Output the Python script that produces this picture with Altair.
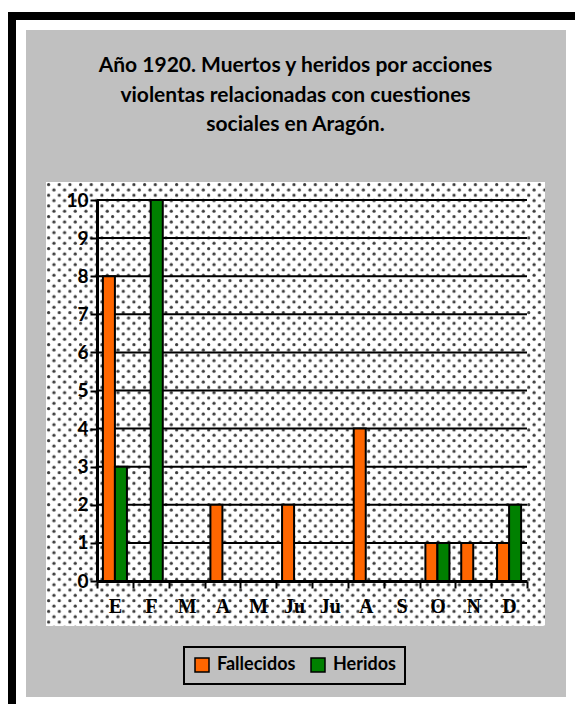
import json
import base64
import altair as alt
import pandas as pd

# ---------------- data ----------------
meses = ["Enero", "Febrero", "Marzo", "Abril", "Mayo", "Junio", "Julio",
         "Agosto", "Septiembre", "Octubre", "Noviembre", "Diciembre"]
etiquetas = ["E", "F", "M", "A", "M", "Ju", "Ju", "A", "S", "O", "N", "D"]
fallecidos = [8, 0, 0, 2, 0, 2, 0, 4, 0, 1, 1, 1]
heridos = [3, 10, 0, 0, 0, 0, 0, 0, 0, 1, 0, 2]
series = ["Fallecidos", "Heridos"]
colores = ["#ff6600", "#008000"]
y_ticks = list(range(0, 11))
titulo = ["Año 1920. Muertos y heridos por acciones",
          "violentas relacionadas con cuestiones",
          "sociales en Aragón."]

rows = []
for m, f, h in zip(meses, fallecidos, heridos):
    rows.append({"mes": m, "serie": series[0], "valor": f})
    rows.append({"mes": m, "serie": series[1], "valor": h})
df = pd.DataFrame(rows)

# ---------------- layout ----------------
W, H = 430, 381
OX, OY = 97, 200

pattern_svg = (
    "<svg xmlns='http://www.w3.org/2000/svg' width='499' height='444'>"
    "<defs><pattern id='p' width='10.67' height='10.67' patternUnits='userSpaceOnUse'>"
    "<rect width='10.67' height='10.67' fill='white'/>"
    "<circle cx='2.6' cy='2.6' r='1.6' fill='#3a3a3a'/>"
    "<circle cx='7.93' cy='7.93' r='1.6' fill='#3a3a3a'/>"
    "</pattern></defs><rect width='499' height='444' fill='url(#p)'/></svg>"
)
pattern_url = "data:image/svg+xml;base64," + base64.b64encode(pattern_svg.encode()).decode()

one = alt.Data(values=[{"k": 1}])

frame = alt.Chart(one).mark_rect(fillOpacity=0, stroke="black", strokeWidth=8).encode(
    x=alt.value(12 - OX), x2=alt.value(1200), y=alt.value(16 - OY), y2=alt.value(1200))

gray = alt.Chart(one).mark_rect(fill="#c0c0c0").encode(
    x=alt.value(26 - OX), x2=alt.value(566 - OX), y=alt.value(30 - OY), y2=alt.value(697 - OY))

pattern = alt.Chart(one).mark_image(
    width=499, height=444, align="left", baseline="top", aspect=False
).encode(x=alt.value(46 - OX), y=alt.value(182 - OY), url=alt.value(pattern_url))

yscale = alt.Scale(domain=[0, 10], nice=False, zero=True)
yaxis = alt.Axis(title=None, values=y_ticks, grid=False, labelFont="Lato",
                 labelFontSize=19, labelFontWeight="bold", labelColor="black",
                 labelPadding=2, tickSize=7, tickColor="black", tickWidth=2,
                 domainColor="black", domainWidth=3, zindex=1)

grid = alt.Chart(alt.Data(values=[{"v": v} for v in y_ticks[1:]])).mark_rule(
    color="black", strokeWidth=2
).encode(y=alt.Y("v:Q", scale=yscale, axis=yaxis), x=alt.value(0), x2=alt.value(W))

label_expr = f"{json.dumps(etiquetas)}[indexof({json.dumps(meses)}, datum.value)]"

bars = alt.Chart(df).mark_bar(stroke="black", strokeWidth=2).encode(
    x=alt.X("mes:N", sort=meses, scale=alt.Scale(paddingInner=0, paddingOuter=0),
            axis=alt.Axis(title=None, labelAngle=0, tickBand="extent", labelExpr=label_expr,
                          labelFont="Liberation Serif", labelFontSize=20, labelFontWeight="bold",
                          labelColor="black", labelPadding=8, tickSize=7, tickColor="black",
                          tickWidth=2, domainColor="black", domainWidth=3, zindex=1)),
    xOffset=alt.XOffset("serie:N", sort=series,
                        scale=alt.Scale(paddingInner=0, paddingOuter=0.49)),
    y=alt.Y("valor:Q", scale=yscale, axis=yaxis),
    color=alt.Color("serie:N", sort=series,
                    scale=alt.Scale(domain=series, range=colores),
                    legend=alt.Legend(title=None, orient="none", legendX=87, legendY=447,
                                      direction="horizontal", fillColor="#c0c0c0",
                                      strokeColor="black", padding=9, symbolType="square",
                                      symbolSize=196, symbolStrokeColor="black",
                                      symbolStrokeWidth=1.5, symbolOpacity=1,
                                      labelFont="Lato", labelFontWeight="bold",
                                      labelFontSize=18, labelColor="black",
                                      columnPadding=12, labelOffset=6)),
)

chart = alt.layer(frame, gray, pattern, grid, bars).properties(
    width=W, height=H,
    title=alt.Title(text=titulo, font="Lato", fontSize=21, fontWeight="bold", color="black",
                    lineHeight=29.5, anchor="middle", dx=-16.5, offset=-123),
    autosize=alt.AutoSizeParams(type="none"),
    padding={"left": OX, "top": OY, "right": 575 - OX - W, "bottom": 704 - OY - H},
    background="white",
).configure_view(stroke=None).configure_legend(strokeWidth=2)

chart.save("out.html", embed_options={"renderer": "svg", "actions": False})
